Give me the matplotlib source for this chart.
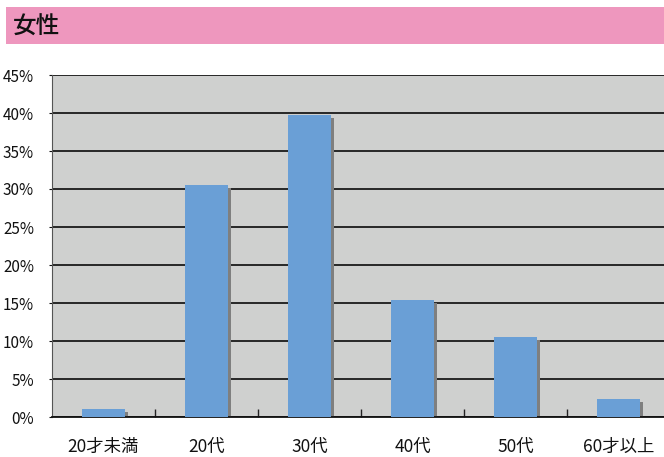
import matplotlib
matplotlib.use("Agg")
import matplotlib.pyplot as plt
from matplotlib.ticker import FuncFormatter, MultipleLocator

plt.rcParams['font.family'] = ['Noto Sans CJK JP', 'DejaVu Sans']

categories = ['20才未満', '20代', '30代', '40代', '50代', '60才以上']
values = [1.0, 30.5, 39.7, 15.4, 10.5, 2.4]
title = '女性'

W, H = 664, 457
fig = plt.figure(figsize=(W/100, H/100), dpi=100)

# pink title band
band = fig.add_axes([6/W, 1-44/H, (W-6)/W, 37/H])
band.set_facecolor('#EE97BE')
band.set_xticks([]); band.set_yticks([])
for s in band.spines.values():
    s.set_visible(False)
band.text(7/(W-6), 0.45, title, transform=band.transAxes, fontsize=17,
          va='center', ha='left', color='#111111', fontweight='medium')

# main axes: left 52px, right 670px (beyond figure), top 75px, bottom 417px
left, right, top, bottom = 52, 670, 75, 417
ax = fig.add_axes([left/W, 1-bottom/H, (right-left)/W, (bottom-top)/H])
ax.set_facecolor('#CFD0CF')
ax.set_xlim(-0.5, len(categories)-0.5)
ax.set_ylim(0, 45)

x = list(range(len(categories)))
bw = 0.41
dx = 3/103
dy = 3/38*5
# shadow
ax.bar([xi + dx for xi in x], [max(v - dy, 0) for v in values], width=bw,
       color='#7F7F7F', zorder=2)
ax.bar(x, values, width=bw, color='#6A9FD6', zorder=3)

ax.yaxis.set_major_locator(MultipleLocator(5))
ax.yaxis.set_major_formatter(FuncFormatter(lambda v, p: f'{int(round(v))}%'))
ax.grid(axis='y', color='#1A1A1A', linewidth=1.3, zorder=1)
ax.set_axisbelow(True)

ax.set_xticks(x)
ax.set_xticklabels(categories, fontsize=12.5)
ax.set_xticks([xi + 0.5 for xi in x[:-1]], minor=True)
ax.tick_params(axis='x', which='major', length=0, pad=15, colors='#111111')
ax.tick_params(axis='x', which='minor', direction='in', length=6, width=1, color='#222222')
ax.tick_params(axis='y', direction='out', length=2, pad=11, labelsize=11, colors='#111111')

for s in ['top', 'right']:
    ax.spines[s].set_visible(False)
ax.spines['left'].set_color('#555555')
ax.spines['left'].set_linewidth(0.8)
ax.spines['bottom'].set_color('#111111')
ax.spines['bottom'].set_linewidth(1.3)

fig.savefig('out.png', dpi=100)
